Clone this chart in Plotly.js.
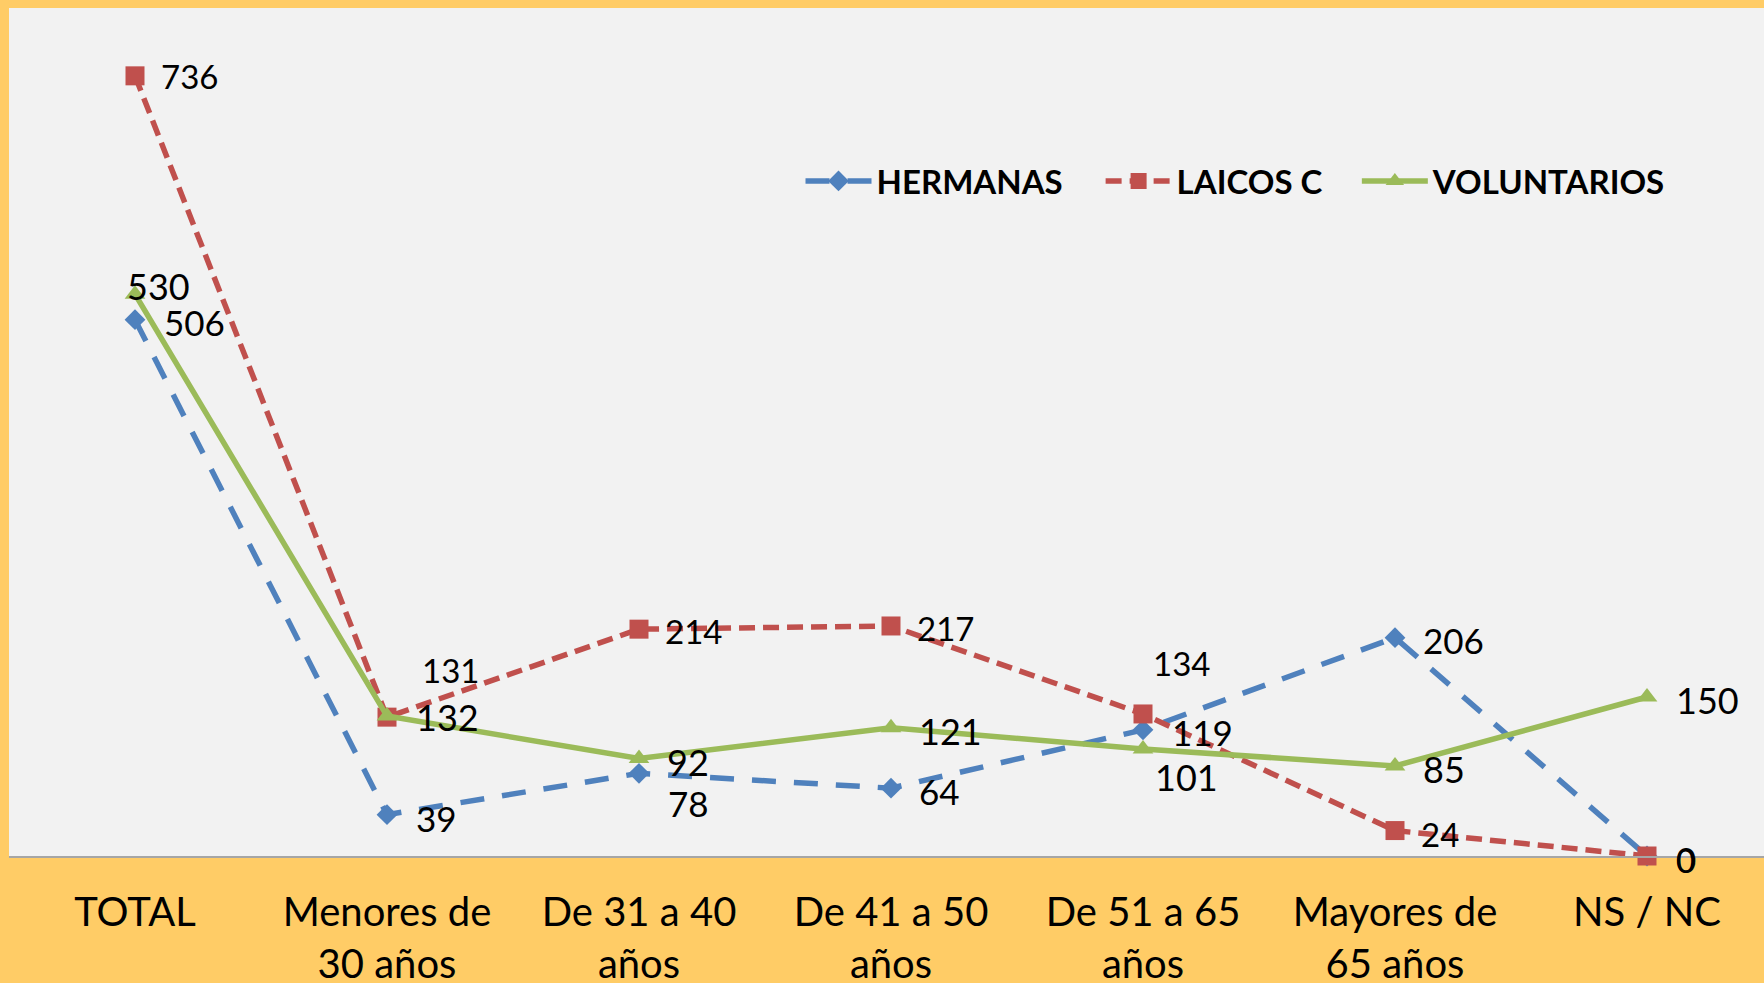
<!DOCTYPE html>
<html>
<head>
<meta charset="utf-8">
<script src="https://cdn.plot.ly/plotly-3.0.1.min.js"></script>
<style>html,body{margin:0;padding:0;background:#FFCC66;}#chart{width:1764px;height:983px;}</style>
</head>
<body>
<div id="chart"></div>
<script>
// ---- data ----
const categories = ["TOTAL", "Menores de<br>30 años", "De 31 a 40<br>años", "De 41 a 50<br>años", "De 51 a 65<br>años", "Mayores de<br>65 años", "NS / NC"];
const seriesNames = ["HERMANAS", "LAICOS C", "VOLUNTARIOS"];
const hermanas = [506, 39, 78, 64, 119, 206, 0];
const laicos = [736, 131, 214, 217, 134, 24, 0];
const voluntarios = [530, 132, 92, 121, 101, 85, 150];

// ---- label placement (pixel offsets, style only) ----
const hermanasLabelShift = [[27,-2],[27,-3],[27,-30],[26,-3],[27,-2],[26,-2],[27,-3]];
const laicosLabelShift   = [[24,0],[33,47],[24,-2],[24,-2],[8,51],[24,-3],[27,-4]];
const voluntLabelShift   = [[-10,8],[27,-1],[26,-4],[26,-3],[10,-28],[26,-3],[27,-3]];

const colors = ["#4F81BD", "#C0504D", "#9BBB59"];
const FONT = "Lato, 'Open Sans', sans-serif";

const traces = [
  {x: categories, y: hermanas, name: seriesNames[0], type: "scatter", mode: "lines+markers", legend: "legend",
   line: {color: colors[0], width: 5.5, dash: "24px,18px"},
   marker: {symbol: "diamond", size: 16, color: colors[0]}, cliponaxis: false},
  {x: categories, y: laicos, name: seriesNames[1], type: "scatter", mode: "lines+markers", legend: "legend2",
   line: {color: colors[1], width: 5.5, dash: "16px,8px"},
   marker: {symbol: "square", size: 19, color: colors[1]}, cliponaxis: false},
  {x: categories, y: voluntarios, name: seriesNames[2], type: "scatter", mode: "lines+markers", legend: "legend3",
   line: {color: colors[2], width: 5.5},
   marker: {symbol: "triangle-up", size: 18, color: colors[2]}, cliponaxis: false}
];

const annotations = [];
function addLabels(vals, shifts, size) {
  vals.forEach((v, i) => {
    annotations.push({x: categories[i], y: v, xref: "x", yref: "y", text: String(v),
      showarrow: false, xanchor: "left", yanchor: "middle",
      xshift: shifts[i][0], yshift: shifts[i][1],
      font: {family: FONT, size: size, color: "#000"}});
  });
}
addLabels(hermanas, hermanasLabelShift, 35);
addLabels(laicos, laicosLabelShift, 33);
addLabels(voluntarios, voluntLabelShift, 36);

const W = 1764, H = 983, ML = 9, MR = 0, MT = 8, MB = 127;
const bandPx = 252;
const plotW = W - ML - MR;

function legendAt(x) {
  return {orientation: "h", x: x, y: 0.796, xanchor: "left", yanchor: "middle",
    font: {family: FONT, size: 33, color: "#000", weight: "bold"},
    itemwidth: 66, bgcolor: "rgba(0,0,0,0)"};
}

const layout = {
  width: W, height: H,
  margin: {l: ML, r: MR, t: MT, b: MB, pad: 0},
  paper_bgcolor: "#FFCC66",
  plot_bgcolor: "#F2F2F2",
  font: {family: FONT, color: "#000"},
  showlegend: true,
  legend: legendAt(0.451),
  legend2: legendAt(0.622),
  legend3: legendAt(0.768),
  xaxis: {type: "category", range: [-0.5, -0.5 + plotW / bandPx],
    showline: true, linecolor: "#A6A6A6", linewidth: 2, showgrid: false, zeroline: false,
    ticks: "", tickfont: {family: FONT, size: 40, color: "#000"}, ticklabelstandoff: 20},
  yaxis: {range: [0, 800], showgrid: false, zeroline: false, showticklabels: false, showline: false, ticks: ""},
  annotations: annotations
};

Plotly.newPlot("chart", traces, layout, {displayModeBar: false, staticPlot: true});
</script>
</body>
</html>
